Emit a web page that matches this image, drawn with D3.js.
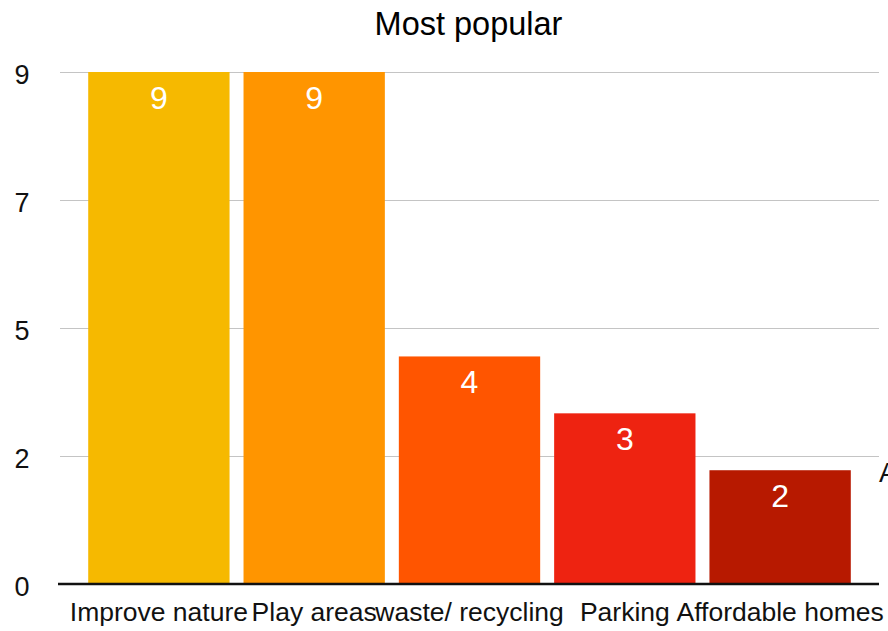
<!DOCTYPE html>
<html>
<head>
<meta charset="utf-8">
<script src="https://cdn.jsdelivr.net/npm/d3@7"></script>
<style>
  html, body { margin: 0; padding: 0; background: #fff; overflow: hidden; }
  svg { display: block; font-family: "Liberation Sans", Arial, sans-serif; }
</style>
</head>
<body>
<script>
// Chart data
const categories = ["Improve nature", "Play areas", "waste/ recycling", "Parking", "Affordable homes"];
const values = [9, 9, 4, 3, 2];
const barColors = ["#F6B900", "#FF9500", "#FF5500", "#EE2311", "#B71900"];
const tickValues = [0, 2.25, 4.5, 6.75, 9];
const tickLabels = ["0", "2", "5", "7", "9"];
const title = "Most popular";
const legendLabel = "Affordable homes";

const W = 888, H = 631;
const plot = { left: 60, right: 879, top: 72, bottom: 584 };

const svg = d3.select("body").append("svg")
  .attr("width", W).attr("height", H);

const x = d3.scaleBand()
  .domain(categories)
  .range([82, 857])
  .paddingInner(0.09)
  .paddingOuter(0.04);

const y = d3.scaleLinear()
  .domain([0, 9])
  .range([plot.bottom, plot.top]);

// Title
svg.append("text")
  .attr("x", 468.5).attr("y", 34.5)
  .attr("text-anchor", "middle")
  .attr("font-size", 32.5)
  .attr("fill", "#000")
  .text(title);

// Horizontal gridlines
svg.append("g")
  .selectAll("line")
  .data(tickValues.filter(v => v > 0))
  .join("line")
  .attr("x1", plot.left).attr("x2", plot.right)
  .attr("y1", d => Math.round(y(d)) + 0.5)
  .attr("y2", d => Math.round(y(d)) + 0.5)
  .attr("stroke", "#c4c4c4")
  .attr("stroke-width", 1);

// Y axis labels
const yAxis = d3.axisLeft(y)
  .tickValues(tickValues)
  .tickFormat((d, i) => tickLabels[i])
  .tickSize(0)
  .tickPadding(0);

svg.append("g")
  .attr("transform", "translate(29.5,0)")
  .call(yAxis)
  .call(g => g.select(".domain").remove())
  .call(g => g.selectAll("text")
    .attr("font-size", 27)
    .attr("font-family", "'Liberation Sans', Arial, sans-serif")
    .attr("fill", "#111")
    .attr("dy", null)
    .attr("y", 11));

// Bars
svg.append("g")
  .selectAll("rect")
  .data(values)
  .join("rect")
  .attr("x", (d, i) => x(categories[i]))
  .attr("y", d => y(d))
  .attr("width", x.bandwidth())
  .attr("height", d => y(0) - y(d))
  .attr("fill", (d, i) => barColors[i]);

// Value labels inside bars
svg.append("g")
  .selectAll("text")
  .data(values)
  .join("text")
  .attr("x", (d, i) => x(categories[i]) + x.bandwidth() / 2)
  .attr("y", d => y(d) + 37)
  .attr("text-anchor", "middle")
  .attr("font-size", 32)
  .attr("fill", "#fff")
  .text(d => d);

// Baseline
svg.append("line")
  .attr("x1", 58).attr("x2", plot.right)
  .attr("y1", plot.bottom).attr("y2", plot.bottom)
  .attr("stroke", "#111")
  .attr("stroke-width", 2.5);

// X axis category labels
const xAxis = d3.axisBottom(x).tickSize(0).tickPadding(0);
svg.append("g")
  .attr("transform", `translate(0,${plot.bottom})`)
  .call(xAxis)
  .call(g => g.select(".domain").remove())
  .call(g => g.selectAll("text")
    .attr("font-size", 26.5)
    .attr("font-family", "'Liberation Sans', Arial, sans-serif")
    .attr("fill", "#111")
    .attr("dy", null)
    .attr("y", 37));

// Legend entry running off the right edge
svg.append("text")
  .attr("x", 879).attr("y", 482)
  .attr("font-size", 27)
  .attr("fill", "#111")
  .text(legendLabel);
</script>
</body>
</html>
